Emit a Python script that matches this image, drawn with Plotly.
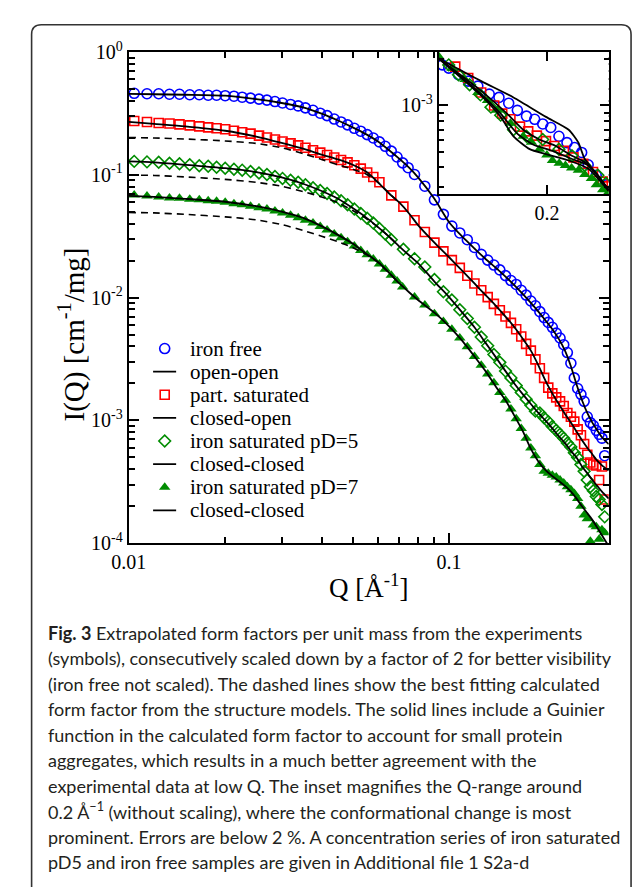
import math
import plotly.graph_objects as go

W, H = 633, 887

# ---------------- data ----------------
# Q grids of the measured points (two instrument settings)
q_low = [0.0104, 0.0114, 0.0124, 0.0134, 0.0144, 0.0155, 0.0166, 0.0177, 0.0188, 0.0200,
         0.0213, 0.0226, 0.0240, 0.0255, 0.0270, 0.0286, 0.0302, 0.0320, 0.0338, 0.0356,
         0.0376, 0.0396, 0.0416, 0.0438, 0.0460, 0.0482, 0.0506, 0.0530, 0.0555, 0.0580,
         0.0606, 0.0632, 0.0660, 0.0688, 0.0716, 0.0745]
q_high = [0.066, 0.072, 0.078, 0.084, 0.090, 0.096, 0.102, 0.108, 0.114, 0.120,
          0.126, 0.132, 0.138, 0.144, 0.150, 0.156, 0.162, 0.168, 0.174, 0.180,
          0.186, 0.192, 0.198, 0.204, 0.210, 0.216, 0.222, 0.228, 0.234, 0.240,
          0.246, 0.252, 0.258, 0.264, 0.270, 0.276, 0.282, 0.288, 0.294, 0.300, 0.306]

# iron free (not scaled)
i_free_low = [0.4606, 0.4564, 0.4564, 0.4521, 0.4521, 0.4481, 0.4481, 0.4440, 0.4440, 0.4400,
              0.4360, 0.4281, 0.4204, 0.4128, 0.4053, 0.3944, 0.3838, 0.3735, 0.3634, 0.3504,
              0.3348, 0.3170, 0.3029, 0.2841, 0.2690, 0.2546, 0.2388, 0.2262, 0.2122, 0.1991,
              0.1851, 0.1704, 0.1556, 0.1395, 0.1250, 0.1141]
i_free_high = [0.1005, 0.0807, 0.0625, 0.0476, 0.0382, 0.0336, 0.0296, 0.0256, 0.0225, 0.0202,
               0.0184, 0.0168, 0.0151, 0.01376, 0.01279, 0.01147, 0.01047, 0.00938, 0.00857, 0.00768,
               0.00688, 0.00628, 0.00573, 0.00514, 0.00469, 0.00413, 0.00357, 0.00292, 0.00222, 0.00182,
               0.00163, 0.00143, 0.00107, 0.00096, 0.000909, 0.000830, 0.000771, 0.000717, 0.000516]
free_high_start = 2

# part. saturated
i_part_low = [0.2740, 0.2690, 0.2641, 0.2617, 0.2570, 0.2523, 0.2478, 0.2432, 0.2388, 0.2345,
              0.2282, 0.2221, 0.2161, 0.2084, 0.2009, 0.1937, 0.1867, 0.1800, 0.1736, 0.1659,
              0.1585, 0.1514, 0.1447, 0.1382, 0.1320, 0.1262, 0.1195, 0.1121, 0.1042, 0.0960,
              0.0868]
i_part_high = [0.0679, 0.0550, 0.0426, 0.0342, 0.0280, 0.0238, 0.0202, 0.01744, 0.01507, 0.01303,
               0.01147, 0.01009, 0.00888, 0.00789, 0.00701, 0.00622, 0.00553, 0.00482, 0.00420, 0.00370,
               0.00314, 0.00266, 0.00222, 0.00185, 0.00166, 0.00154, 0.00143, 0.00131, 0.00115, 0.00107,
               0.000977, 0.000845, 0.000757, 0.000642, 0.000526, 0.000454, 0.000438, 0.000430, 0.000327,
               0.000422, 0.000227]
part_high_start = 0

# iron saturated pD=5
i_pd5_low = [0.1285, 0.1273, 0.1262, 0.1239, 0.1228, 0.1206, 0.1184, 0.1173, 0.1152, 0.1131,
             0.1110, 0.1090, 0.1061, 0.1032, 0.1005, 0.0969, 0.0934, 0.0901, 0.0868, 0.0829,
             0.0785, 0.0743, 0.0704, 0.0660, 0.0614, 0.0571, 0.0526, 0.0484, 0.0442, 0.0404,
             0.0365, 0.0330, 0.0296]
i_pd5_high = [0.0247, 0.0207, 0.01776, 0.01401, 0.01116, 0.00955, 0.00796, 0.00676, 0.00573, 0.00478,
              0.00405, 0.00344, 0.00297, 0.00252, 0.00222, 0.00192, 0.00169, 0.00149, 0.00133, 0.00119,
              0.00115, 0.00105, 0.000977, 0.000892, 0.000830, 0.000771, 0.000717, 0.000654, 0.000608, 0.000545,
              0.000498, 0.000438, 0.000386, 0.000327, 0.000288, 0.000268, 0.000240, 0.000227, 0.000207, 0.000164]
pd5_high_start = 1

# iron saturated pD=7
i_pd7_low = [0.0685, 0.0673, 0.0660, 0.0648, 0.0643, 0.0631, 0.0625, 0.0614, 0.0608, 0.0597,
             0.0581, 0.0571, 0.0555, 0.0540, 0.0526, 0.0507, 0.0489, 0.0467, 0.0446, 0.0426,
             0.0404, 0.0379, 0.0355, 0.0330, 0.0307, 0.0285, 0.0263, 0.0242, 0.0223, 0.0206,
             0.0188, 0.0170, 0.0152, 0.01364, 0.01222]
i_pd7_high = [0.01009, 0.00872, 0.00740, 0.00640, 0.00553, 0.00469, 0.00398, 0.00332, 0.00281, 0.00239,
              0.00203, 0.00169, 0.00146, 0.00124, 0.00103, 0.000861, 0.000717, 0.000597, 0.000516, 0.000438,
              0.000386, 0.000372, 0.000358, 0.000346, 0.000327, 0.000310, 0.000288, 0.000273, 0.000254, 0.000231,
              0.000200, 0.000170, 0.000158, 0.000104, 0.000141, 0.000136, 0.000108, 0.000129, 0.000122]
pd7_high_start = 2

# calculated form factors (solid: with Guinier term, dashed: structure model only)
q_fit = [0.010, 0.012, 0.015, 0.020, 0.025, 0.030, 0.035, 0.040, 0.045, 0.050,
         0.055, 0.060, 0.065, 0.070, 0.075, 0.080, 0.090, 0.100, 0.110, 0.120,
         0.130, 0.140, 0.150, 0.160, 0.170, 0.180, 0.190, 0.200, 0.210, 0.220,
         0.230, 0.240, 0.250, 0.260, 0.270, 0.280, 0.290, 0.300, 0.315]
fit_open_open = [0.4563, 0.4521, 0.4481, 0.4400, 0.4128, 0.3838, 0.3535, 0.3141, 0.2764, 0.2432,
                 0.2141, 0.1867, 0.1585, 0.1345, 0.1141, 0.0951, 0.0637, 0.0411, 0.0313, 0.0251,
                 0.0206, 0.01744, 0.01480, 0.01256, 0.01066, 0.00904, 0.00768, 0.00651, 0.00553, 0.00461,
                 0.00370, 0.00276, 0.00196, 0.00146, 0.00115, 0.00096, 0.00083, 0.00073, 0.00064]
fit_closed_open = [0.2690, 0.2594, 0.2478, 0.2282, 0.2046, 0.1817, 0.1629, 0.1460, 0.1333, 0.1206,
                   0.1061, 0.0868, 0.0704, 0.0592, 0.0484, 0.0389, 0.0280, 0.0213, 0.0165, 0.01303,
                   0.01047, 0.00857, 0.00701, 0.00573, 0.00461, 0.00370, 0.00281, 0.00210, 0.00166, 0.00136,
                   0.00113, 0.00096, 0.00081, 0.00069, 0.00060, 0.00053, 0.00047, 0.00043, 0.00039]
fit_closed_closed_5 = [0.1285, 0.1262, 0.1206, 0.1131, 0.1051, 0.0951, 0.0845, 0.0737, 0.0637, 0.0535,
                       0.0450, 0.0375, 0.0313, 0.0260, 0.0221, 0.0191, 0.01351, 0.01009, 0.00754, 0.00573,
                       0.00428, 0.00326, 0.00252, 0.00199, 0.00163, 0.00136, 0.00115, 0.000995, 0.000861, 0.000743,
                       0.000654, 0.000565, 0.000498, 0.000422, 0.000372, 0.000327, 0.000293, 0.000263, 0.000231]
fit_closed_closed_7 = [0.0673, 0.0660, 0.0637, 0.0603, 0.0555, 0.0502, 0.0446, 0.0382, 0.0324, 0.0275,
                       0.0229, 0.0195, 0.0159, 0.01303, 0.01105, 0.00955, 0.00754, 0.00584, 0.00444, 0.00332,
                       0.00252, 0.00188, 0.00146, 0.00109, 0.000814, 0.000587, 0.000463, 0.000393, 0.000352, 0.000321,
                       0.000293, 0.000263, 0.000231, 0.000200, 0.000176, 0.000155, 0.000134, 0.000116, 0.0000946]
dash_closed_open = [0.2009, 0.1991, 0.1955, 0.1884, 0.1800, 0.1659, 0.1487, 0.1333, 0.1206, 0.1110,
                    0.1014, 0.0868, 0.0704, 0.0592]
dash_closed_closed_5 = [0.0995, 0.0987, 0.0960, 0.0917, 0.0868, 0.0807, 0.0730, 0.0660, 0.0592, 0.0512,
                        0.0442, 0.0375, 0.0313, 0.0260]
dash_closed_closed_7 = [0.0493, 0.0489, 0.0476, 0.0454, 0.0430, 0.0393, 0.0352, 0.0316, 0.0285, 0.0256,
                        0.0225, 0.0193, 0.0159, 0.01303]

# inset (without scaling)
ins_q_free = [0.1323, 0.1365, 0.1428, 0.1491, 0.1553, 0.1627, 0.1690, 0.1753, 0.1809, 0.1868,
              0.1921, 0.1973, 0.2025, 0.2078, 0.2130, 0.2179, 0.2225, 0.2267, 0.2319, 0.2382]
ins_i_free = [0.001824, 0.00174, 0.00158, 0.001434, 0.001333, 0.001184, 0.001127, 0.001035, 0.000931, 0.000854,
              0.000815, 0.000761, 0.000722, 0.000634, 0.000577, 0.000537, 0.000499, 0.000416, 0.000356, 0.000309]
ins_q_part = [0.1407, 0.1491, 0.1575, 0.1659, 0.1711, 0.1764, 0.1826, 0.1879, 0.1935, 0.1994,
              0.2047, 0.2110, 0.2172, 0.2235, 0.2298, 0.2361, 0.2393]
ins_i_part = [0.001778, 0.001503, 0.001211, 0.001000, 0.000887, 0.000815, 0.000732, 0.000682, 0.000640, 0.000590,
              0.000549, 0.000511, 0.000464, 0.000422, 0.000374, 0.000324, 0.000302]
ins_q_pd5 = [0.1365, 0.1428, 0.1500, 0.1570, 0.1638, 0.1701, 0.1784, 0.1868, 0.1973, 0.2078,
             0.2162, 0.2245, 0.2330, 0.2382]
ins_i_pd5 = [0.001824, 0.001578, 0.00136, 0.00117, 0.000976, 0.000867, 0.000698, 0.000634, 0.000605, 0.000524,
             0.000475, 0.000412, 0.000356, 0.000316]
ins_q_pd7 = [0.1302, 0.1386, 0.1470, 0.1553, 0.1616, 0.1679, 0.1764, 0.1847, 0.1900, 0.1952,
             0.2000, 0.2036, 0.2080, 0.2120, 0.2160, 0.2204, 0.2245, 0.2288, 0.2320, 0.2361, 0.2390]
ins_i_pd7 = [0.002056, 0.001738, 0.001469, 0.001211, 0.001075, 0.000931, 0.000769, 0.000634, 0.00058, 0.000524,
             0.00048, 0.000443, 0.000425, 0.000412, 0.000397, 0.000383, 0.00036, 0.00034, 0.00031, 0.000287, 0.00027]
ins_q_fit_oo = [0.1300, 0.1575, 0.1784, 0.1994, 0.2141, 0.2204, 0.2245, 0.2330, 0.2400]
ins_i_fit_oo = [0.002004, 0.001434, 0.001127, 0.000845, 0.000698, 0.000577, 0.000453, 0.000356, 0.000286]
ins_q_fit_co = [0.1300, 0.1575, 0.1742, 0.1847, 0.1952, 0.2057, 0.2162, 0.2245, 0.2330, 0.2400]
ins_i_fit_co = [0.002004, 0.001242, 0.000887, 0.000698, 0.000605, 0.000549, 0.000475, 0.000432, 0.000356, 0.000286]
ins_q_fit_cc5 = [0.1300, 0.1575, 0.1701, 0.1805, 0.1910, 0.2036, 0.2162, 0.2267, 0.2400]
ins_i_fit_cc5 = [0.002004, 0.001184, 0.000887, 0.000665, 0.000562, 0.000511, 0.000453, 0.000412, 0.000286]
ins_q_fit_cc7 = [0.1300, 0.1575, 0.1701, 0.1784, 0.1889, 0.1994, 0.2141, 0.2267, 0.2400]
ins_i_fit_cc7 = [0.002004, 0.001156, 0.000845, 0.000634, 0.000524, 0.000487, 0.000443, 0.000393, 0.000281]

q_mark = 0.2  # dotted reference line

x_ticks = [0.01, 0.1]
x_ticktext = ["0.01", "0.1"]
x_minor = [0.02, 0.03, 0.04, 0.05, 0.06, 0.07, 0.08, 0.09]
y_ticks = [1e-4, 1e-3, 1e-2, 1e-1, 1]
y_ticktext = ["10<sup>-4</sup>", "10<sup>-3</sup>", "10<sup>-2</sup>", "10<sup>-1</sup>", "10<sup>0</sup>"]
y_minor = [m * 10.0 ** e for e in range(-4, 0) for m in range(2, 10)]
ins_y_ticks = [1e-3]
ins_y_ticktext = ["10<sup>-3</sup>"]
ins_y_minor = [3e-4, 4e-4, 5e-4, 6e-4, 7e-4, 8e-4, 9e-4, 2e-3]
ins_x_ticks = [0.2]
ins_x_ticktext = ["0.2"]

legend_labels = ["iron free", "open-open", "part. saturated", "closed-open",
                 "iron saturated pD=5", "closed-closed", "iron saturated pD=7", "closed-closed"]

y_title = "I(Q) [cm<sup>-1</sup>/mg]"
x_title = "Q [Å<sup>-1</sup>]"

caption_lines = [
    "<b>Fig. 3</b> Extrapolated form factors per unit mass from the experiments",
    "(symbols), consecutively scaled down by a factor of 2 for better visibility",
    "(iron free not scaled). The dashed lines show the best fitting calculated",
    "form factor from the structure models. The solid lines include a Guinier",
    "function in the calculated form factor to account for small protein",
    "aggregates, which results in a much better agreement with the",
    "experimental data at low Q. The inset magnifies the Q-range around",
    "0.2 Å<sup>−1</sup> (without scaling), where the conformational change is most",
    "prominent. Errors are below 2 %. A concentration series of iron saturated",
    "pD5 and iron free samples are given in Additional file 1 S2a-d",
]

# ---------------- styling ----------------
SERIF = "Liberation Serif, Times New Roman, serif"
SANS = "Lato, Open Sans, sans-serif"
BLUE, RED, GREEN = "#0000ff", "#ff0000", "#008c00"


def px_x(p):
    return p / W


def px_y(p):
    return 1 - p / H


m_free = dict(symbol="circle-open", size=10, color=BLUE, line=dict(width=1.6, color=BLUE))
m_part = dict(symbol="square-open", size=9, color=RED, line=dict(width=1.6, color=RED))
m_pd5 = dict(symbol="diamond-open", size=9, color=GREEN, line=dict(width=1.6, color=GREEN))
m_pd7 = dict(symbol="triangle-up", size=10, color=GREEN, line=dict(width=0, color=GREEN))
solid = dict(color="black", width=1.8, shape="spline", smoothing=0.6)
dashed = dict(color="black", width=1.6, dash="7px,5px", shape="spline", smoothing=0.6)

fig = go.Figure()


def series(i_low, i_high, start):
    q = q_low[:len(i_low)] + q_high[start:start + len(i_high)]
    return q, i_low + i_high


for (il, ih, st), mk in [((i_free_low, i_free_high, free_high_start), m_free),
                         ((i_part_low, i_part_high, part_high_start), m_part),
                         ((i_pd5_low, i_pd5_high, pd5_high_start), m_pd5),
                         ((i_pd7_low, i_pd7_high, pd7_high_start), m_pd7)]:
    q, i = series(il, ih, st)
    fig.add_trace(go.Scatter(x=q, y=i, mode="markers", marker=mk, showlegend=False,
                             xaxis="x", yaxis="y"))

for d in [dash_closed_open, dash_closed_closed_5, dash_closed_closed_7]:
    fig.add_trace(go.Scatter(x=q_fit[:len(d)], y=d, mode="lines", line=dashed,
                             showlegend=False, xaxis="x", yaxis="y"))
for f in [fit_open_open, fit_closed_open, fit_closed_closed_5, fit_closed_closed_7]:
    fig.add_trace(go.Scatter(x=q_fit, y=f, mode="lines", line=solid,
                             showlegend=False, xaxis="x", yaxis="y"))

# inset
for q, i, mk in [(ins_q_free, ins_i_free, m_free), (ins_q_part, ins_i_part, m_part),
                 (ins_q_pd5, ins_i_pd5, m_pd5), (ins_q_pd7, ins_i_pd7, m_pd7)]:
    fig.add_trace(go.Scatter(x=q, y=i, mode="markers", marker=mk, showlegend=False,
                             xaxis="x2", yaxis="y2"))
for q, i in [(ins_q_fit_oo, ins_i_fit_oo), (ins_q_fit_co, ins_i_fit_co),
             (ins_q_fit_cc5, ins_i_fit_cc5), (ins_q_fit_cc7, ins_i_fit_cc7)]:
    fig.add_trace(go.Scatter(x=q, y=i, mode="lines", line=solid, showlegend=False,
                             xaxis="x2", yaxis="y2"))

# legend (glyphs on a hidden helper axis, one row per entry)
legend_styles = [("m", m_free), ("l", None), ("m", m_part), ("l", None),
                 ("m", m_pd5), ("l", None), ("m", m_pd7), ("l", None)]
for row, (kind, mk) in enumerate(legend_styles):
    if kind == "m":
        fig.add_trace(go.Scatter(x=[0.5], y=[row], mode="markers", marker=mk, showlegend=False,
                                 xaxis="x3", yaxis="y3", cliponaxis=False, hoverinfo="skip"))
    else:
        fig.add_trace(go.Scatter(x=[0, 1], y=[row, row], mode="lines",
                                 line=dict(color="black", width=1.8), showlegend=False,
                                 xaxis="x3", yaxis="y3", cliponaxis=False, hoverinfo="skip"))

annotations = []
for row, lab in enumerate(legend_labels):
    annotations.append(dict(text=lab, xref="paper", yref="y3", x=px_x(175), y=row, xanchor="left",
                            yanchor="middle", showarrow=False,
                            font=dict(family=SERIF, size=21, color="black")))

annotations.append(dict(text=y_title, xref="paper", yref="paper", x=px_x(55), y=px_y(330),
                        xanchor="center", yanchor="middle", textangle=-90, showarrow=False,
                        font=dict(family=SERIF, size=29, color="black")))

for k, line in enumerate(caption_lines):
    annotations.append(dict(text=line, xref="paper", yref="paper", x=px_x(29), y=px_y(637 + 26.2 * k),
                            xanchor="left", yanchor="middle", showarrow=False,
                            font=dict(family=SANS, size=18, color="#231f20")))

axis_common = dict(showline=True, linecolor="black", linewidth=2, mirror="ticks", ticks="inside",
                   tickcolor="black", tickwidth=1.5, showgrid=False, zeroline=False,
                   tickfont=dict(family=SERIF, size=20, color="black"))

main_x_dom = [px_x(114), px_x(608)]
main_y_dom = [px_y(545), px_y(40)]
ins_x_dom = [px_x(433), px_x(608)]
ins_y_dom = [px_y(186), px_y(40)]

shapes = [
    dict(type="line", xref="x", yref="paper", x0=math.log10(q_mark), x1=math.log10(q_mark),
         y0=main_y_dom[0], y1=ins_y_dom[0], line=dict(color="#444", width=1, dash="dot")),
    dict(type="path", xref="paper", yref="paper", layer="below",
         path=(f"M {px_x(14)} {px_y(900)} L {px_x(14)} {px_y(22)} Q {px_x(14)} {px_y(12)} {px_x(24)} {px_y(12)} "
               f"L {px_x(621)} {px_y(12)} Q {px_x(631)} {px_y(12)} {px_x(631)} {px_y(22)} L {px_x(631)} {px_y(900)}"),
         line=dict(color="#333", width=1.6)),
]

fig.update_layout(
    width=W, height=H, margin=dict(l=0, r=0, t=0, b=0),
    paper_bgcolor="white", plot_bgcolor="white", showlegend=False,
    xaxis=dict(axis_common, type="log", domain=main_x_dom, anchor="y",
               range=[-2, math.log10(0.315)], tickmode="array", tickvals=x_ticks, ticktext=x_ticktext,
               ticklen=10, minor=dict(tickmode="array", tickvals=x_minor, ticks="inside", ticklen=6,
                                      tickwidth=1.5, tickcolor="black"),
               title=dict(text=x_title, font=dict(family=SERIF, size=27, color="black"), standoff=6)),
    yaxis=dict(axis_common, type="log", domain=main_y_dom, anchor="x", range=[-4, 0],
               tickmode="array", tickvals=y_ticks, ticktext=y_ticktext, ticklen=10,
               minor=dict(tickmode="array", tickvals=y_minor, ticks="inside", ticklen=6,
                          tickwidth=1.5, tickcolor="black")),
    xaxis2=dict(axis_common, domain=ins_x_dom, anchor="y2", range=[0.13, 0.24],
                tickmode="array", tickvals=ins_x_ticks, ticktext=ins_x_ticktext, ticklen=9),
    yaxis2=dict(axis_common, type="log", domain=ins_y_dom, anchor="x2",
                range=[math.log10(2.7e-4), math.log10(2.21e-3)],
                tickmode="array", tickvals=ins_y_ticks, ticktext=ins_y_ticktext, ticklen=9,
                minor=dict(tickmode="array", tickvals=ins_y_minor, ticks="inside", ticklen=5,
                           tickwidth=1.5, tickcolor="black")),
    xaxis3=dict(domain=[px_x(139), px_x(163)], anchor="y3", range=[0, 1], visible=False),
    yaxis3=dict(domain=[px_y(523), px_y(333)], anchor="x3", range=[7.5, -0.5], visible=False),
    annotations=annotations,
    shapes=shapes,
)

fig.write_html("out.html")
